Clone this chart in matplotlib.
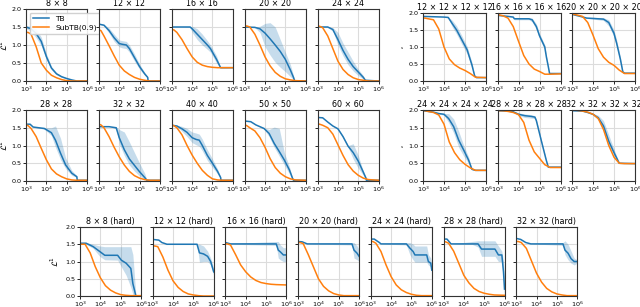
import numpy as np
import matplotlib
matplotlib.use("Agg")
import matplotlib.pyplot as plt
from matplotlib.ticker import NullLocator, FormatStrFormatter

# log10 of training steps shared by every SubTB(0.9) curve
SUB_LOGX = [3.0, 3.1, 3.25, 3.5, 3.75, 4.0, 4.25, 4.5, 4.75, 5.0, 5.25, 5.5, 6.0]

# ---- 2D grids (left block) ----
sq_titles = ["8 × 8", "12 × 12", "16 × 16", "20 × 20", "24 × 24",
             "28 × 28", "32 × 32", "40 × 40", "50 × 50", "60 × 60"]
sq_tb_x = [
    [3.0, 3.25, 3.5, 3.75, 4.0, 4.25, 4.5, 4.75, 5.0, 5.25, 5.5, 6.0],
    [3.0, 3.25, 3.5, 3.75, 4.0, 4.15, 4.35, 4.5, 4.75, 5.0, 5.25, 5.4, 5.42, 6.0],
    [3.0, 3.5, 3.9, 4.0, 4.25, 4.5, 4.75, 4.9, 5.0, 5.2, 5.4, 6.0],
    [3.0, 3.5, 3.75, 4.0, 4.25, 4.5, 4.75, 5.0, 5.25, 5.4, 5.46, 6.0],
    [3.0, 3.5, 3.75, 4.0, 4.25, 4.5, 4.75, 5.0, 5.25, 5.35, 6.0],
    [3.0, 3.2, 3.35, 3.9, 4.25, 4.45, 4.7, 4.95, 5.25, 5.5, 5.52, 6.0],
    [3.0, 3.5, 3.85, 4.0, 4.25, 4.5, 4.75, 5.0, 5.25, 5.36, 6.0],
    [3.0, 3.25, 3.5, 3.75, 4.0, 4.2, 4.35, 4.5, 4.75, 5.0, 5.25, 5.4, 5.42, 6.0],
    [3.0, 3.3, 3.55, 3.95, 4.2, 4.45, 4.7, 4.95, 5.2, 5.35, 5.4, 6.0],
    [3.0, 3.25, 3.5, 3.75, 4.0, 4.25, 4.5, 4.75, 5.0, 5.2, 5.38, 5.4, 6.0],
]
sq_tb_y = [
    [1.5, 1.45, 1.32, 1.1, 0.68, 0.36, 0.2, 0.12, 0.07, 0.03, 0.0, 0.0],
    [1.58, 1.55, 1.4, 1.2, 1.04, 1.02, 1.0, 0.9, 0.65, 0.4, 0.2, 0.1, 0.0, 0.0],
    [1.5, 1.5, 1.5, 1.45, 1.3, 1.15, 1.0, 0.9, 0.8, 0.6, 0.37, 0.37],
    [1.5, 1.49, 1.45, 1.33, 1.17, 1.0, 0.82, 0.6, 0.3, 0.1, 0.0, 0.0],
    [1.5, 1.5, 1.43, 1.15, 0.85, 0.6, 0.4, 0.25, 0.1, 0.02, 0.0],
    [1.6, 1.6, 1.52, 1.48, 1.36, 1.15, 0.78, 0.45, 0.22, 0.12, 0.02, 0.02],
    [1.53, 1.53, 1.5, 1.22, 0.88, 0.62, 0.44, 0.26, 0.1, 0.02, 0.02],
    [1.57, 1.55, 1.47, 1.37, 1.22, 1.17, 1.15, 1.0, 0.72, 0.5, 0.27, 0.1, 0.02, 0.02],
    [1.69, 1.67, 1.58, 1.48, 1.34, 1.06, 0.83, 0.59, 0.31, 0.08, 0.02, 0.02],
    [1.79, 1.78, 1.66, 1.55, 1.47, 1.25, 0.98, 0.8, 0.56, 0.31, 0.08, 0.02, 0.02],
]
sq_tb_lo = [
    [1.46, 1.38, 1.2, 0.98, 0.6, 0.31, 0.17, 0.1, 0.06, 0.02, 0.0, 0.0],
    [1.58, 1.53, 1.33, 1.1, 0.95, 0.92, 0.9, 0.8, 0.55, 0.33, 0.16, 0.08, 0.0, 0.0],
    [1.5, 1.5, 1.49, 1.35, 1.15, 1.0, 0.88, 0.8, 0.7, 0.5, 0.36, 0.37],
    [1.5, 1.48, 1.35, 0.95, 0.72, 0.52, 0.38, 0.26, 0.12, 0.04, 0.0, 0.0],
    [1.5, 1.49, 1.38, 1.0, 0.7, 0.45, 0.28, 0.15, 0.05, 0.01, 0.0],
    [1.6, 1.6, 1.52, 1.46, 1.28, 0.95, 0.6, 0.35, 0.16, 0.1, 0.02, 0.02],
    [1.53, 1.53, 1.48, 1.05, 0.72, 0.45, 0.28, 0.14, 0.05, 0.01, 0.02],
    [1.57, 1.53, 1.4, 1.25, 1.08, 1.02, 0.98, 0.85, 0.58, 0.38, 0.2, 0.08, 0.02, 0.02],
    [1.69, 1.67, 1.58, 1.46, 1.25, 0.95, 0.7, 0.45, 0.2, 0.05, 0.02, 0.02],
    [1.79, 1.78, 1.66, 1.55, 1.45, 1.22, 0.95, 0.62, 0.36, 0.2, 0.06, 0.02, 0.02],
]
sq_tb_hi = [
    [1.54, 1.52, 1.44, 1.22, 0.76, 0.41, 0.23, 0.14, 0.08, 0.04, 0.0, 0.0],
    [1.58, 1.57, 1.47, 1.3, 1.14, 1.12, 1.1, 1.0, 0.75, 0.47, 0.24, 0.12, 0.0, 0.0],
    [1.5, 1.5, 1.51, 1.52, 1.45, 1.3, 1.12, 1.0, 0.9, 0.7, 0.38, 0.37],
    [1.5, 1.5, 1.52, 1.6, 1.62, 1.5, 1.15, 0.8, 0.45, 0.15, 0.0, 0.0],
    [1.5, 1.51, 1.48, 1.35, 1.05, 0.8, 0.55, 0.33, 0.15, 0.03, 0.0],
    [1.6, 1.6, 1.52, 1.5, 1.5, 1.55, 1.2, 0.65, 0.3, 0.15, 0.02, 0.02],
    [1.53, 1.53, 1.52, 1.45, 1.38, 1.1, 0.8, 0.5, 0.22, 0.03, 0.02],
    [1.57, 1.57, 1.54, 1.48, 1.38, 1.35, 1.32, 1.18, 0.88, 0.62, 0.34, 0.12, 0.02, 0.02],
    [1.69, 1.67, 1.58, 1.5, 1.45, 1.52, 1.48, 0.8, 0.4, 0.1, 0.02, 0.02],
    [1.79, 1.78, 1.66, 1.55, 1.49, 1.28, 1.0, 1.05, 0.72, 0.36, 0.1, 0.02, 0.02],
]
sq_sub = [
    [1.35, 1.35, 1.3, 0.95, 0.5, 0.3, 0.16, 0.09, 0.04, 0.01, 0.0, 0.0, 0.0],
    [1.42, 1.4, 1.25, 0.98, 0.7, 0.44, 0.28, 0.18, 0.1, 0.05, 0.02, 0.0, 0.0],
    [1.43, 1.42, 1.35, 1.15, 0.9, 0.67, 0.52, 0.44, 0.4, 0.38, 0.37, 0.37, 0.37],
    [1.52, 1.53, 1.5, 1.3, 1.0, 0.67, 0.42, 0.24, 0.13, 0.06, 0.03, 0.01, 0.0],
    [1.52, 1.52, 1.48, 1.25, 0.9, 0.55, 0.32, 0.18, 0.09, 0.04, 0.02, 0.0, 0.0],
    [1.58, 1.56, 1.48, 1.25, 0.92, 0.6, 0.34, 0.2, 0.12, 0.06, 0.03, 0.02, 0.02],
    [1.6, 1.58, 1.5, 1.25, 0.95, 0.68, 0.45, 0.27, 0.15, 0.08, 0.04, 0.02, 0.02],
    [1.57, 1.56, 1.5, 1.3, 1.0, 0.73, 0.5, 0.3, 0.16, 0.06, 0.03, 0.02, 0.02],
    [1.58, 1.56, 1.5, 1.41, 1.22, 0.95, 0.63, 0.38, 0.22, 0.12, 0.06, 0.03, 0.02],
    [1.6, 1.6, 1.57, 1.5, 1.32, 1.02, 0.72, 0.46, 0.28, 0.16, 0.08, 0.04, 0.02],
]

# ---- 4D grids (right block) ----
hc_titles = ["12 × 12 × 12 × 12", "16 × 16 × 16 × 16", "20 × 20 × 20 × 20",
             "24 × 24 × 24 × 24", "28 × 28 × 28 × 28", "32 × 32 × 32 × 32"]
hc_tb_x = [
    [3.0, 3.5, 4.0, 4.2, 4.4, 4.6, 4.85, 5.1, 5.33, 5.46, 5.55, 6.0],
    [3.0, 3.5, 3.75, 3.8, 4.5, 4.65, 4.85, 5.0, 5.25, 5.33, 5.42, 5.48, 6.0],
    [3.0, 3.4, 3.7, 4.0, 4.5, 4.75, 5.0, 5.13, 5.3, 5.42, 5.5, 6.0],
    [3.0, 3.5, 3.75, 4.0, 4.22, 4.46, 4.7, 4.94, 5.17, 5.33, 5.5, 6.0],
    [3.0, 3.5, 3.75, 4.0, 4.3, 4.6, 4.78, 4.85, 5.08, 5.32, 5.42, 6.0],
    [3.0, 3.5, 3.75, 4.0, 4.25, 4.5, 4.75, 5.0, 5.25, 6.0],
]
hc_tb_y = [
    [1.9, 1.89, 1.88, 1.87, 1.68, 1.5, 1.21, 0.92, 0.47, 0.15, 0.1, 0.1],
    [1.93, 1.9, 1.88, 1.83, 1.83, 1.8, 1.6, 1.33, 1.0, 0.7, 0.42, 0.22, 0.22],
    [1.96, 1.9, 1.85, 1.84, 1.82, 1.72, 1.4, 1.1, 0.65, 0.27, 0.23, 0.23],
    [1.98, 1.94, 1.9, 1.88, 1.76, 1.53, 1.15, 0.87, 0.59, 0.33, 0.3, 0.3],
    [1.98, 1.97, 1.95, 1.88, 1.84, 1.82, 1.8, 1.7, 1.15, 0.59, 0.39, 0.39],
    [1.98, 1.97, 1.93, 1.88, 1.78, 1.55, 1.12, 0.8, 0.5, 0.49],
]
hc_tb_lo = [
    [1.9, 1.89, 1.88, 1.85, 1.58, 1.38, 1.08, 0.8, 0.4, 0.13, 0.1, 0.1],
    [1.93, 1.9, 1.87, 1.8, 1.8, 1.74, 1.52, 1.25, 0.93, 0.65, 0.4, 0.22, 0.22],
    [1.96, 1.9, 1.84, 1.82, 1.78, 1.62, 1.3, 1.0, 0.57, 0.25, 0.23, 0.23],
    [1.98, 1.94, 1.89, 1.85, 1.65, 1.35, 0.95, 0.7, 0.5, 0.31, 0.3, 0.3],
    [1.98, 1.97, 1.94, 1.84, 1.79, 1.77, 1.76, 1.66, 1.12, 0.57, 0.39, 0.39],
    [1.98, 1.97, 1.92, 1.86, 1.72, 1.45, 1.0, 0.72, 0.49, 0.49],
]
hc_tb_hi = [
    [1.9, 1.89, 1.88, 1.89, 1.78, 1.62, 1.33, 1.02, 0.55, 0.17, 0.1, 0.1],
    [1.93, 1.9, 1.89, 1.86, 1.86, 1.85, 1.68, 1.4, 1.07, 0.75, 0.44, 0.22, 0.22],
    [1.96, 1.9, 1.86, 1.87, 1.86, 1.8, 1.5, 1.2, 0.72, 0.3, 0.23, 0.23],
    [1.98, 1.94, 1.91, 1.9, 1.9, 1.75, 1.4, 1.0, 0.68, 0.35, 0.3, 0.3],
    [1.98, 1.97, 1.96, 1.92, 1.89, 1.87, 1.84, 1.74, 1.18, 0.61, 0.39, 0.39],
    [1.98, 1.97, 1.94, 1.9, 1.85, 1.7, 1.3, 0.9, 0.51, 0.49],
]
hc_sub = [
    [1.85, 1.85, 1.83, 1.8, 1.53, 1.0, 0.65, 0.48, 0.38, 0.31, 0.22, 0.11, 0.1],
    [1.95, 1.94, 1.92, 1.85, 1.6, 1.17, 0.75, 0.5, 0.35, 0.28, 0.2, 0.2, 0.21],
    [1.97, 1.96, 1.94, 1.9, 1.72, 1.35, 0.95, 0.7, 0.55, 0.46, 0.32, 0.22, 0.22],
    [1.98, 1.98, 1.96, 1.93, 1.86, 1.6, 1.1, 0.8, 0.6, 0.47, 0.37, 0.3, 0.3],
    [1.98, 1.98, 1.98, 1.96, 1.93, 1.87, 1.65, 1.15, 0.82, 0.64, 0.46, 0.38, 0.38],
    [2.0, 2.0, 1.99, 1.97, 1.94, 1.88, 1.76, 1.45, 1.0, 0.67, 0.5, 0.49, 0.49],
]

# ---- hard 2D grids (bottom row) ----
hd_titles = ["8 × 8 (hard)", "12 × 12 (hard)", "16 × 16 (hard)", "20 × 20 (hard)",
             "24 × 24 (hard)", "28 × 28 (hard)", "32 × 32 (hard)"]
hd_tb_x = [
    [3.0, 3.3, 3.65, 3.97, 4.22, 4.85, 5.03, 5.27, 5.5, 5.6, 5.75, 6.0],
    [3.0, 3.3, 3.45, 3.7, 5.18, 5.3, 5.5, 5.7, 5.85, 6.0],
    [3.0, 3.25, 5.5, 5.6, 5.7, 5.85, 6.0],
    [3.0, 3.2, 3.45, 5.65, 5.75, 5.9, 6.0],
    [3.0, 3.17, 3.42, 3.5, 4.75, 4.92, 5.08, 5.17, 5.75, 5.83, 5.95, 6.0],
    [3.0, 3.17, 3.37, 4.4, 4.7, 4.87, 5.53, 5.7, 5.87, 5.95, 6.0],
    [3.0, 3.22, 3.47, 3.72, 5.3, 5.4, 5.55, 5.7, 5.85, 6.0],
]
hd_tb_y = [
    [1.53, 1.53, 1.43, 1.29, 1.18, 1.18, 1.04, 0.95, 0.8, 0.36, 0.0, 0.0],
    [1.64, 1.62, 1.55, 1.5, 1.5, 1.25, 1.22, 1.15, 1.0, 0.7],
    [1.55, 1.51, 1.51, 1.33, 1.28, 1.19, 1.19],
    [1.58, 1.57, 1.51, 1.51, 1.33, 1.24, 1.15],
    [1.65, 1.65, 1.55, 1.51, 1.51, 1.39, 1.29, 1.19, 1.19, 1.0, 0.95, 0.75],
    [1.65, 1.65, 1.51, 1.51, 1.51, 1.36, 1.36, 1.19, 1.19, 0.7, 0.2],
    [1.67, 1.64, 1.55, 1.51, 1.51, 1.33, 1.24, 1.08, 1.0, 1.0],
]
hd_tb_lo = [
    [1.5, 1.5, 1.38, 1.15, 1.05, 1.04, 0.85, 0.6, 0.25, 0.05, 0.0, 0.0],
    [1.64, 1.62, 1.55, 1.5, 1.5, 0.98, 1.0, 1.0, 0.9, 0.6],
    [1.55, 1.5, 1.47, 1.1, 1.05, 1.0, 1.0],
    [1.58, 1.57, 1.51, 1.48, 1.1, 1.05, 1.0],
    [1.65, 1.65, 1.55, 1.51, 1.48, 1.2, 1.05, 0.98, 0.98, 0.9, 0.85, 0.6],
    [1.65, 1.65, 1.51, 1.5, 1.42, 1.15, 1.15, 1.0, 1.0, 0.4, 0.0],
    [1.67, 1.64, 1.55, 1.51, 1.47, 1.2, 1.05, 0.95, 0.9, 0.95],
]
hd_tb_hi = [
    [1.55, 1.55, 1.5, 1.45, 1.43, 1.43, 1.43, 1.43, 1.43, 1.2, 0.0, 0.0],
    [1.64, 1.62, 1.55, 1.5, 1.5, 1.5, 1.45, 1.3, 1.1, 0.8],
    [1.55, 1.52, 1.58, 1.58, 1.48, 1.4, 1.4],
    [1.58, 1.57, 1.51, 1.55, 1.55, 1.45, 1.35],
    [1.65, 1.65, 1.55, 1.51, 1.55, 1.55, 1.5, 1.45, 1.45, 1.2, 1.1, 0.9],
    [1.65, 1.65, 1.51, 1.58, 1.6, 1.6, 1.6, 1.45, 1.3, 1.0, 0.6],
    [1.67, 1.64, 1.55, 1.51, 1.55, 1.6, 1.5, 1.3, 1.1, 1.05],
]
hd_sub = [
    [1.5, 1.5, 1.5, 1.25, 0.85, 0.53, 0.3, 0.17, 0.09, 0.04, 0.02, 0.01, 0.01],
    [1.45, 1.45, 1.43, 1.13, 0.75, 0.44, 0.25, 0.13, 0.06, 0.03, 0.01, 0.0, 0.0],
    [1.51, 1.51, 1.48, 1.2, 0.9, 0.7, 0.55, 0.45, 0.39, 0.36, 0.34, 0.33, 0.32],
    [1.55, 1.55, 1.52, 1.2, 0.85, 0.5, 0.28, 0.15, 0.07, 0.03, 0.01, 0.01, 0.01],
    [1.58, 1.58, 1.53, 1.29, 0.9, 0.56, 0.32, 0.18, 0.1, 0.05, 0.02, 0.01, 0.01],
    [1.58, 1.57, 1.53, 1.3, 0.95, 0.6, 0.38, 0.22, 0.13, 0.08, 0.05, 0.03, 0.02],
    [1.58, 1.58, 1.55, 1.38, 1.02, 0.66, 0.4, 0.22, 0.12, 0.06, 0.03, 0.01, 0.01],
]

W, H = 640, 307
fig = plt.figure(figsize=(W / 100, H / 100), dpi=100)


def add_ax(left, top, width, height):
    # pixel box (from top-left) -> figure fraction
    return fig.add_axes([left / W, (H - top - height) / H, width / W, height / H])


def draw_panel(ax, title, tx, ty, tlo, thi, sy, first_col, ylab_x, ylab_size=6):
    x = 10 ** np.array(tx)
    ax.fill_between(x, tlo, thi, color="C0", alpha=0.25, lw=0)
    ax.plot(x, ty, color="C0", lw=1.1, label="TB")
    ax.plot(10 ** np.array(SUB_LOGX), sy, color="C1", lw=1.1, label="SubTB(0.9)")
    ax.set_xscale("log")
    ax.set_xlim(1e3, 1e6)
    ax.set_ylim(0, 2)
    ax.set_xticks([1e3, 1e4, 1e5, 1e6])
    ax.xaxis.set_minor_locator(NullLocator())
    ax.set_yticks([0, 0.5, 1.0, 1.5, 2.0])
    ax.yaxis.set_major_formatter(FormatStrFormatter("%.1f"))
    ax.grid(True, color="#dcdcdc", lw=0.8)
    ax.set_axisbelow(True)
    ax.tick_params(labelsize=4.6, length=2, width=0.6, pad=1)
    for sp in ax.spines.values():
        sp.set_color("#333333")
    ax.set_title(title, fontsize=5.8, pad=2)
    if first_col:
        ax.set_ylabel(r"$\mathcal{L}^1$", fontsize=ylab_size)
        ax.yaxis.set_label_coords(ylab_x, 0.5)
    else:
        ax.set_yticklabels([])


# left block: 2 rows x 5
for i, title in enumerate(sq_titles):
    r, c = divmod(i, 5)
    top = 9 if r == 0 else 110
    ax = add_ax(26 + c * 72.9, top, 61, 72 if r == 0 else 71)
    draw_panel(ax, title, sq_tb_x[i], sq_tb_y[i], sq_tb_lo[i], sq_tb_hi[i], sq_sub[i],
               c == 0, -0.27)
    if i == 0:
        ax.legend(loc="upper left", fontsize=5.4, handlelength=2.2, borderpad=0.4,
                  labelspacing=0.3, framealpha=0.9, edgecolor="#cccccc")

# right block: 2 rows x 3
for i, title in enumerate(hc_titles):
    r, c = divmod(i, 3)
    top = 13 if r == 0 else 110
    ax = add_ax(423 + c * 74.5, top, 63, 68 if r == 0 else 71)
    draw_panel(ax, title, hc_tb_x[i], hc_tb_y[i], hc_tb_lo[i], hc_tb_hi[i], hc_sub[i],
               c == 0, -0.25, ylab_size=2)

# bottom row: hard variants
for i, title in enumerate(hd_titles):
    ax = add_ax(80 + i * 72.7, 227, 61, 69)
    draw_panel(ax, title, hd_tb_x[i], hd_tb_y[i], hd_tb_lo[i], hd_tb_hi[i], hd_sub[i],
               i == 0, -0.31)

fig.savefig("out.png", dpi=100)
